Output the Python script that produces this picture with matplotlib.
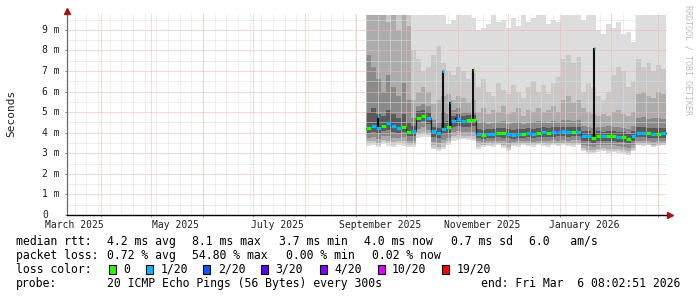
import numpy as np
import matplotlib
matplotlib.use('Agg')
import matplotlib.pyplot as plt
import matplotlib.dates as mdates
from matplotlib.patches import Rectangle
from matplotlib.transforms import blended_transform_factory

# time frame: last 360 days ending at the probe time
start = np.datetime64('2025-03-11T08:02:51')
end = np.datetime64('2026-03-06T08:02:51')
first_bin = np.datetime64('2025-09-07T00:00')
bin_days = 3  # each value below covers 3 days

# median rtt per bin (ms)
median_ms = [4.22, 4.31, 4.25, 4.35, 4.45, 4.35, 4.25, 4.30, 4.05, 4.07,
             4.70, 4.80, 4.70, 4.07, 4.00, 4.20, 4.28, 4.56, 4.65, 4.56,
             4.60, 4.60, 3.96, 3.90, 3.96, 3.96, 3.98, 3.98, 3.94, 3.90,
             3.96, 3.96, 3.98, 3.94, 3.98, 4.02, 4.00, 4.02, 4.04, 4.07,
             4.02, 4.04, 4.04, 3.86, 3.86, 3.72, 3.86, 3.82, 3.86, 3.86,
             3.78, 3.78, 3.70, 3.86, 4.00, 4.00, 3.98, 3.96, 3.96, 3.98]
# index into loss_labels for each bin
median_loss = [0, 1, 1, 0, 1, 1, 1, 0, 0, 1,
               0, 0, 1, 1, 1, 1, 0, 1, 1, 1,
               0, 0, 1, 0, 1, 1, 0, 0, 1, 1,
               1, 0, 1, 1, 0, 1, 0, 1, 1, 1,
               1, 0, 1, 1, 1, 0, 0, 1, 0, 0,
               1, 0, 0, 1, 1, 1, 0, 1, 0, 1]

# smoke: nested bands, outer (lightest) to inner (darkest), in ms
hi0 = [9.72, 9.72, 9.72, 9.72, 9.72, 9.72, 9.72, 9.72, 9.72, 9.72,
       9.72, 9.72, 9.72, 9.72, 9.72, 9.72, 9.30, 9.50, 9.72, 9.72,
       9.72, 9.60, 9.00, 9.10, 9.30, 9.72, 9.40, 9.50, 9.10, 9.60,
       9.20, 9.72, 9.40, 9.60, 9.72, 9.72, 9.30, 9.50, 9.40, 9.72,
       9.72, 9.72, 9.72, 9.50, 9.72, 9.72, 9.00, 8.80, 9.30, 9.10,
       9.40, 8.80, 8.90, 8.40, 9.72, 9.72, 9.72, 9.72, 9.72, 9.72]
hi1 = [9.72, 9.72, 9.72, 9.72, 9.72, 9.72, 9.72, 9.72, 9.72, 8.00,
       7.60, 7.00, 7.20, 7.80, 8.20, 7.40, 7.00, 6.80, 7.20, 7.00,
       6.60, 6.90, 6.20, 6.60, 6.00, 5.80, 6.40, 6.10, 5.90, 6.30,
       6.00, 5.70, 6.20, 6.50, 6.00, 6.30, 5.90, 6.40, 6.70, 7.60,
       7.80, 7.40, 7.70, 6.00, 6.40, 6.20, 5.80, 5.60, 6.00, 6.80,
       7.20, 7.00, 6.20, 6.50, 7.60, 7.20, 7.40, 7.00, 7.30, 7.10]
hi2 = [9.72, 9.72, 9.72, 9.72, 9.40, 9.72, 9.00, 9.72, 9.20, 5.60,
       6.00, 6.20, 6.00, 5.40, 5.60, 5.80, 5.90, 5.60, 5.80, 5.70,
       5.50, 5.60, 5.00, 5.20, 4.90, 5.10, 5.00, 5.30, 4.90, 5.00,
       5.20, 4.80, 5.10, 5.00, 5.20, 5.00, 5.10, 5.30, 5.00, 5.60,
       5.80, 5.50, 5.60, 5.20, 5.00, 4.90, 4.80, 4.90, 4.80, 5.00,
       5.10, 4.90, 4.80, 5.00, 5.90, 6.00, 5.80, 5.70, 6.00, 5.90]
hi3 = [7.80, 7.20, 6.60, 6.00, 6.80, 6.20, 5.80, 6.40, 5.60, 4.70,
       5.30, 5.40, 5.30, 4.60, 4.50, 5.00, 4.90, 5.10, 5.20, 5.00,
       5.00, 5.00, 4.45, 4.50, 4.40, 4.45, 4.50, 4.55, 4.40, 4.45,
       4.50, 4.40, 4.45, 4.50, 4.55, 4.50, 4.45, 4.55, 4.50, 4.60,
       4.60, 4.55, 4.60, 4.35, 4.30, 4.25, 4.30, 4.30, 4.35, 4.30,
       4.30, 4.25, 4.20, 4.35, 4.70, 4.75, 4.65, 4.70, 4.70, 4.65]
hi4 = [5.00, 5.20, 4.90, 4.80, 5.10, 4.90, 4.70, 4.90, 4.50, 4.35,
       5.05, 5.10, 5.00, 4.30, 4.25, 4.50, 4.55, 4.80, 4.90, 4.80,
       4.85, 4.85, 4.20, 4.15, 4.20, 4.20, 4.22, 4.25, 4.18, 4.15,
       4.20, 4.20, 4.22, 4.18, 4.22, 4.26, 4.25, 4.26, 4.28, 4.30,
       4.28, 4.30, 4.30, 4.08, 4.08, 3.98, 4.08, 4.05, 4.08, 4.08,
       4.02, 4.02, 3.95, 4.08, 4.30, 4.30, 4.25, 4.22, 4.22, 4.25]
lo4 = [4.00, 4.05, 4.00, 4.10, 4.15, 4.05, 4.00, 4.05, 3.85, 3.85,
       4.45, 4.55, 4.40, 3.80, 3.75, 3.95, 4.00, 4.30, 4.35, 4.30,
       4.30, 4.35, 3.75, 3.70, 3.75, 3.75, 3.78, 3.76, 3.72, 3.70,
       3.75, 3.76, 3.78, 3.72, 3.78, 3.80, 3.78, 3.80, 3.82, 3.84,
       3.80, 3.82, 3.82, 3.62, 3.60, 3.50, 3.62, 3.58, 3.62, 3.62,
       3.55, 3.55, 3.48, 3.62, 3.78, 3.78, 3.75, 3.74, 3.74, 3.76]
lo3 = [3.75, 3.80, 3.70, 3.85, 3.85, 3.75, 3.75, 3.80, 3.60, 3.60,
       4.20, 4.30, 4.15, 3.55, 3.50, 3.65, 3.75, 4.05, 4.10, 4.05,
       4.05, 4.05, 3.58, 3.55, 3.60, 3.58, 3.62, 3.58, 3.50, 3.55,
       3.58, 3.62, 3.60, 3.56, 3.62, 3.62, 3.60, 3.64, 3.62, 3.66,
       3.62, 3.64, 3.66, 3.40, 3.35, 3.30, 3.40, 3.38, 3.40, 3.40,
       3.35, 3.32, 3.28, 3.40, 3.60, 3.62, 3.58, 3.56, 3.58, 3.60]
lo2 = [3.58, 3.62, 3.52, 3.66, 3.62, 3.55, 3.58, 3.60, 3.45, 3.45,
       4.00, 4.05, 3.98, 3.38, 3.32, 3.45, 3.58, 3.85, 3.88, 3.85,
       3.85, 3.82, 3.45, 3.42, 3.48, 3.45, 3.50, 3.42, 3.30, 3.45,
       3.45, 3.50, 3.48, 3.44, 3.50, 3.48, 3.46, 3.50, 3.48, 3.52,
       3.48, 3.44, 3.50, 3.25, 3.18, 3.15, 3.22, 3.24, 3.22, 3.20,
       3.20, 3.15, 3.10, 3.24, 3.48, 3.48, 3.46, 3.42, 3.44, 3.48]
lo1 = [3.45, 3.50, 3.40, 3.55, 3.48, 3.42, 3.48, 3.46, 3.38, 3.38,
       3.88, 3.92, 3.90, 3.28, 3.20, 3.30, 3.48, 3.72, 3.76, 3.74,
       3.72, 3.70, 3.32, 3.38, 3.42, 3.38, 3.46, 3.34, 3.20, 3.40,
       3.38, 3.46, 3.42, 3.38, 3.46, 3.42, 3.38, 3.46, 3.42, 3.46,
       3.42, 3.38, 3.46, 3.18, 3.06, 3.08, 3.14, 3.18, 3.10, 3.12,
       3.12, 3.06, 3.00, 3.18, 3.42, 3.40, 3.42, 3.36, 3.38, 3.42]
lo0 = [3.35, 3.40, 3.30, 3.45, 3.35, 3.30, 3.40, 3.35, 3.30, 3.30,
       3.75, 3.80, 3.80, 3.20, 3.10, 3.20, 3.40, 3.60, 3.65, 3.70,
       3.65, 3.60, 3.20, 3.30, 3.35, 3.30, 3.40, 3.25, 3.10, 3.35,
       3.30, 3.40, 3.35, 3.30, 3.40, 3.35, 3.30, 3.40, 3.35, 3.40,
       3.35, 3.30, 3.40, 3.10, 2.95, 3.00, 3.05, 3.10, 3.00, 3.05,
       3.00, 2.95, 2.90, 3.10, 3.40, 3.35, 3.40, 3.30, 3.35, 3.40]
smoke_colors = ['#dddddd', '#c8c8c8', '#acacac', '#8a8a8a', '#5a5a5a']

# short median excursions (single samples)
spike_dates = ['2025-09-14T00:00', '2025-10-22T20:00', '2025-10-27T10:00',
               '2025-10-31T00:00', '2025-11-10T04:00', '2025-12-30T12:00',
               '2026-01-21T20:00']
spike_ms = [4.80, 7.00, 5.48, 4.72, 7.12, 4.06, 8.12]
spike_loss = [1, 1, 1, 3, 0, 5, 1]

loss_labels = ['0', '1/20', '2/20', '3/20', '4/20', '10/20', '19/20']
loss_colors = ['#26ff00', '#00b8ff', '#0059ff', '#5e00ff', '#7e00ff', '#dd00ff', '#ff0000']

y_ticks = [0, 1, 2, 3, 4, 5, 6, 7, 8, 9]
y_tick_labels = ['0', '1 m', '2 m', '3 m', '4 m', '5 m', '6 m', '7 m', '8 m', '9 m']
month_labels = ['March 2025', 'May 2025', 'July 2025', 'September 2025',
                'November 2025', 'January 2026']
month_label_dates = ['2025-03-15T12:00', '2025-05-15T12:00', '2025-07-15T12:00',
                     '2025-09-15T12:00', '2025-11-15T12:00', '2026-01-15T12:00']

legend_rows = [
    [(16, 'median rtt:'), (107.3, '4.2 ms avg'), (192.4, '8.1 ms max'),
     (279, '3.7 ms min'), (364.4, '4.0 ms now'), (451, '0.7 ms sd'),
     (529, '6.0   am/s')],
    [(16, 'packet loss:'), (107.3, '0.72 % avg'), (192.4, '54.80 % max'),
     (285.8, '0.00 % min'), (371.6, '0.02 % now')],
    [(16, 'loss color:')],
    [(16, 'probe:'), (106.7, '20 ICMP Echo Pings (56 Bytes) every 300s')],
]
loss_box_x = [108.7, 145.7, 203.3, 261, 319.5, 377.5, 442]

W, H = 697, 297
MONO = 'DejaVu Sans Mono'
fig = plt.figure(figsize=(W / 100, H / 100), dpi=100)
fig.patch.set_facecolor('white')
ax_left, ax_bottom, ax_right, ax_top = 67, 215, 667, 13
ax = fig.add_axes([ax_left / W, 1 - ax_bottom / H, (ax_right - ax_left) / W,
                   (ax_bottom - ax_top) / H])
ax.set_facecolor('white')

x0 = mdates.date2num(start)
x1 = mdates.date2num(end)
ax.set_xlim(x0, x1)
ax.set_ylim(0, 9.82)

edges = first_bin + np.arange(len(median_ms) + 1) * np.timedelta64(bin_days, 'D')
xe = mdates.date2num(edges)


def ext(v):
    return np.r_[v, v[-1]]


los = [lo0, lo1, lo2, lo3, lo4]
his = [hi0, hi1, hi2, hi3, hi4]
for lo, hi, c in zip(los, his, smoke_colors):
    ax.fill_between(xe, ext(lo), ext(hi), step='post', color=c, lw=0, zorder=1)

# grid (dotted, drawn over the smoke like rrdtool)
dot = (0, (1, 1))
grid_kw = dict(lw=0.72, ls=dot, snap=True)
for v in np.arange(0.5, 9.6, 1.0):
    ax.axhline(v, color='#dedede', zorder=2, **grid_kw)
weeks = np.arange(np.datetime64('2025-03-16'), end, np.timedelta64(7, 'D'))
for d in weeks:
    ax.axvline(mdates.date2num(d), color='#dedede', zorder=2, **grid_kw)
months = np.arange(np.datetime64('2025-04'), np.datetime64('2026-04'),
                   np.timedelta64(1, 'M')).astype('datetime64[D]')
months = months[months < end]
for d in months:
    ax.axvline(mdates.date2num(d), color='#f0b4b4', zorder=2.1, **grid_kw)
for v in y_ticks[1:]:
    ax.axhline(v, color='#f0b4b4', zorder=2.1, **grid_kw)

# median: thin dark line plus loss coloured segments
med = np.array(median_ms)
ax.step(xe, ext(med), where='post', color='#202020', lw=0.9, zorder=3)
for i, m in enumerate(med):
    ax.hlines(m, xe[i], xe[i + 1], colors=loss_colors[median_loss[i]], lw=2.3,
              zorder=4)

sd = mdates.date2num(np.array(spike_dates, dtype='datetime64[m]'))
for x, v, l in zip(sd, spike_ms, spike_loss):
    idx = np.searchsorted(xe, x) - 1
    base = med[idx]
    ax.vlines(x, min(base, v), max(base, v), colors='#101010', lw=1.5, zorder=3.5)
    ax.hlines(v, x - 0.45, x + 0.45, colors=loss_colors[l], lw=2.3, zorder=4.5)

# axes styling
for s in ['top', 'right']:
    ax.spines[s].set_visible(False)
ax.spines['left'].set_color('#6a6a6a')
ax.spines['left'].set_linewidth(0.9)
ax.spines['bottom'].set_color('black')
ax.spines['bottom'].set_linewidth(1.0)
ax.spines['left'].set_zorder(6)
ax.spines['bottom'].set_zorder(6)

ax.set_xticks(mdates.date2num(months))
ax.set_xticklabels([])
ax.tick_params(axis='x', length=1.5, width=0.72, color='#e08080', direction='out')
ax.set_yticks(y_ticks)
ax.set_yticklabels([])
ax.tick_params(axis='y', length=1.5, width=0.72, color='#808080', direction='out')

tr_x = blended_transform_factory(ax.transData, ax.transAxes)
lab_y = -(224.5 - ax_bottom) / (ax_bottom - ax_top)
for lab, d in zip(month_labels, month_label_dates):
    ax.text(mdates.date2num(np.datetime64(d)), lab_y, lab, transform=tr_x,
            ha='center', va='center', family=MONO, fontsize=7, color='#202020')

tr_y = blended_transform_factory(ax.transAxes, ax.transData)
for v, lab in zip(y_ticks, y_tick_labels):
    ax.text((42 - ax_left) / (ax_right - ax_left), v, lab, transform=tr_y,
            ha='left', va='center', family=MONO, fontsize=7, color='#202020')

# arrows at the axis ends
ax.plot([0], [1 + 2.5 / (ax_bottom - ax_top)], marker='^', ms=4.2, color='#a31515',
        transform=ax.transAxes, clip_on=False, zorder=7)
ax.plot([1 + 3 / (ax_right - ax_left)], [0], marker='>', ms=4.2, color='#a31515',
        transform=ax.transAxes, clip_on=False, zorder=7)
ax.plot([1, 1 + 3 / (ax_right - ax_left)], [0, 0], color='black', lw=1.0,
        transform=ax.transAxes, clip_on=False, zorder=6)

fig.text(11 / W, 1 - 113.5 / H, 'Seconds', rotation=90, ha='center', va='center',
         family=MONO, fontsize=8, color='#202020')
fig.text(688 / W, 1 - 5 / H, 'RRDTOOL / TOBI OETIKER', rotation=270, ha='center',
         va='top', family=MONO, fontsize=6, color='#bdbdbd')

row_y = [241.3, 255.3, 269.3, 283.2]
for row, y in zip(legend_rows, row_y):
    for x, t in row:
        fig.text(x / W, 1 - y / H, t, ha='left', va='center', family=MONO,
                 fontsize=8.3, color='black')
fig.text(680 / W, 1 - row_y[3] / H, 'end: Fri Mar  6 08:02:51 2026', ha='right',
         va='center', family=MONO, fontsize=8.3, color='black')

for bx, lab, c in zip(loss_box_x, loss_labels, loss_colors):
    fig.add_artist(Rectangle((bx / W, 1 - 273.7 / H), 7 / W, 8.4 / H,
                             transform=fig.transFigure, facecolor=c,
                             edgecolor='black', lw=0.8))
    fig.text((bx + 14.6) / W, 1 - row_y[2] / H, lab, ha='left', va='center',
             family=MONO, fontsize=8.3, color='black')

fig.savefig('out.png', dpi=100, facecolor='white')
